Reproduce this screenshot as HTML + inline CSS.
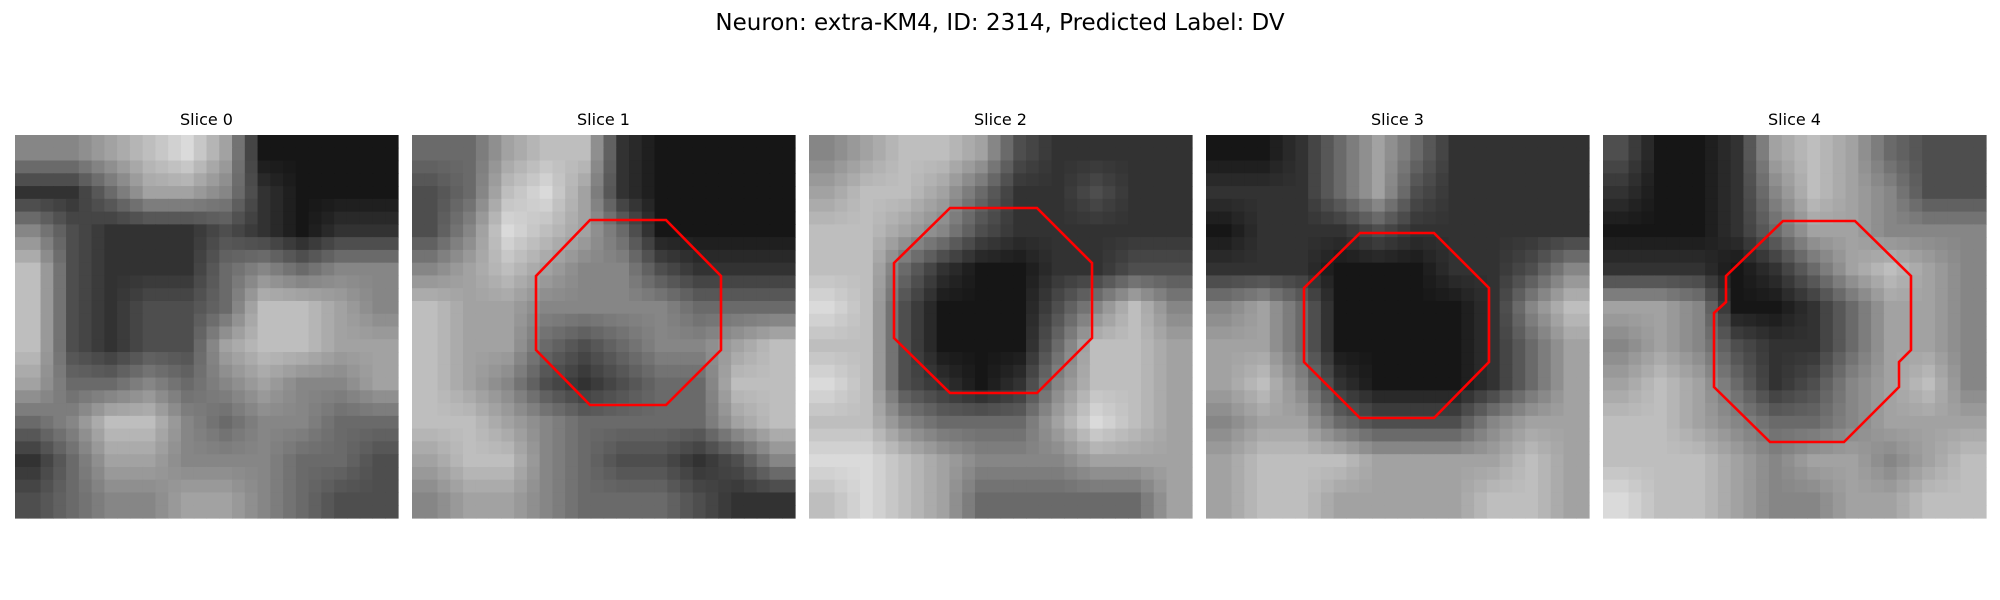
<!DOCTYPE html>
<html><head><meta charset="utf-8"><style>
html,body{margin:0;padding:0;background:#fff;width:2000px;height:600px;overflow:hidden}
svg text{font-family:"DejaVu Sans","Liberation Sans",sans-serif}
</style></head><body>
<svg id="fig" width="2000" height="600" viewBox="0 0 2000 600" xmlns="http://www.w3.org/2000/svg">
<rect width="2000" height="600" fill="#fff"/>
<text x="1000" y="30" text-anchor="middle" font-size="23" fill="#000">Neuron: extra-KM4, ID: 2314, Predicted Label: DV</text>
<g id="panels"></g>
</svg>
<script>
const sliceLabels = ["Slice 0","Slice 1","Slice 2","Slice 3","Slice 4"];
const slice0 = [[5,5,6,7,8,6,1,1,1,1],[2,2,4,6,6,5,2,1,1,1],[5,3,2,2,2,3,2,1,2,2],[7,3,2,2,2,4,5,4,5,5],[7,3,2,3,3,4,7,7,6,5],[7,3,2,3,3,6,7,7,6,6],[6,4,4,5,4,5,6,5,5,6],[4,5,7,7,5,4,5,5,4,4],[2,4,6,6,5,5,5,4,4,3],[3,4,5,5,6,6,5,4,3,3]];
const slice1 = [[4,4,6,7,7,2,1,1,1,1],[3,4,7,8,6,2,1,1,1,1],[3,5,8,7,6,4,1,1,1,1],[5,6,7,6,5,5,3,2,2,2],[7,6,6,5,5,5,5,4,4,4],[7,6,6,4,3,4,5,5,6,7],[7,6,5,3,2,3,4,4,7,7],[7,7,6,5,4,4,4,4,6,7],[6,7,7,5,4,3,3,2,3,5],[5,6,6,5,4,4,4,3,2,2]];
const slice2 = [[5,6,7,7,6,3,2,2,2,2],[6,7,7,6,4,2,2,3,2,2],[7,7,6,5,3,2,2,2,2,2],[7,7,4,2,1,1,2,2,3,3],[8,7,3,1,1,1,3,5,7,5],[7,7,3,1,1,1,4,7,7,6],[8,7,3,2,1,2,5,7,7,6],[7,7,5,4,4,4,6,8,7,6],[8,8,7,6,5,5,5,6,6,6],[7,8,7,6,4,4,4,4,4,6]];
const slice3 = [[1,1,2,4,6,4,2,2,2,2],[2,2,2,4,6,3,2,2,2,2],[1,2,2,2,3,2,2,2,2,2],[2,2,2,1,1,1,2,2,3,5],[5,6,4,1,1,1,1,2,5,7],[6,6,4,1,1,1,1,2,4,6],[6,7,5,2,1,1,1,2,4,6],[5,6,6,4,3,3,3,5,6,6],[6,7,7,7,6,6,6,6,7,6],[6,7,7,6,6,6,6,7,7,6]];
const slice4 = [[3,1,1,2,6,7,6,4,3,3],[2,1,1,2,5,7,6,5,3,3],[1,1,1,2,4,6,6,5,5,5],[2,2,2,1,2,4,6,7,6,5],[6,6,5,1,1,2,4,6,6,5],[5,6,5,3,2,2,4,6,6,5],[6,7,6,4,2,3,5,6,7,5],[7,7,6,5,4,4,5,6,6,6],[7,7,7,6,5,6,6,5,6,7],[8,7,7,6,5,5,6,6,7,7]];
const slices = [slice0,slice1,slice2,slice3,slice4];
const roi1 = [[178,85],[254,85],[309,141],[309,215],[254,270],[178,270],[124,215],[124,141]];
const roi2 = [[141,73],[228,73],[283,128],[283,203],[228,258],[141,258],[85,203],[85,128]];
const roi3 = [[154,98],[228,98],[283,153],[283,227],[228,283],[154,283],[98,227],[98,153]];
const roi4 = [[180,86],[252,86],[308,141],[308,215],[296,227],[296,252],[241,307],[167,307],[111,252],[111,178],[123,167],[123,141]];
const rois = [null,roi1,roi2,roi3,roi4];

const NS="http://www.w3.org/2000/svg";
const g=document.getElementById('panels');
const P0=15, STEP=397, TOP=135, SIZE=383, N=30;
function panelX(i){return P0+i*STEP;}
function grey(v){const c=Math.max(0,Math.min(255,Math.round(v*28-6)));return `rgb(${c},${c},${c})`;}
function sample(grid,r,c){
  const y=Math.min(Math.max((r+0.5)/3-0.5,0),9), x=Math.min(Math.max((c+0.5)/3-0.5,0),9);
  const y0=Math.floor(y),x0=Math.floor(x),y1=Math.min(y0+1,9),x1=Math.min(x0+1,9);
  const fy=y-y0,fx=x-x0;
  return grid[y0][x0]*(1-fx)*(1-fy)+grid[y0][x1]*fx*(1-fy)+grid[y1][x0]*(1-fx)*fy+grid[y1][x1]*fx*fy;
}
slices.forEach((grid,i)=>{
  const pg=document.createElementNS(NS,'g');
  
  
  const x0=panelX(i), cs=SIZE/N;
  for(let r=0;r<N;r++)for(let c=0;c<N;c++){
    const rc=document.createElementNS(NS,'rect');
    rc.setAttribute('x',(x0+c*cs).toFixed(2));rc.setAttribute('y',(TOP+r*cs).toFixed(2));
    rc.setAttribute('width',(cs+0.6).toFixed(2));rc.setAttribute('height',(cs+0.6).toFixed(2));
    rc.setAttribute('fill',grey(sample(grid,r,c)));
    pg.appendChild(rc);
  }
  const t=document.createElementNS(NS,'text');
  
  
  t.setAttribute('x',x0+SIZE/2);t.setAttribute('y',125);
  t.setAttribute('text-anchor','middle');t.setAttribute('font-size','16');
  t.textContent=sliceLabels[i];
  pg.appendChild(t);
  if(rois[i]){
    const pl=document.createElementNS(NS,'polygon');
    
    
    pl.setAttribute('points',rois[i].map(p=>(x0+p[0])+','+(TOP+p[1])).join(' '));
    pl.setAttribute('fill','none');pl.setAttribute('stroke','#f00');pl.setAttribute('stroke-width','2.6');
    pg.appendChild(pl);
  }
  g.appendChild(pg);
});
</script>
</body></html>
